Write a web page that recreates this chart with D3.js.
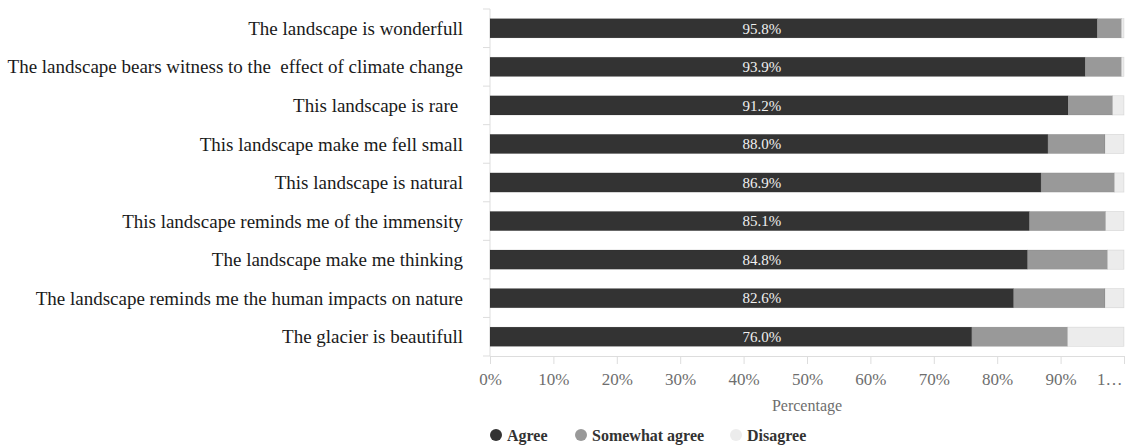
<!DOCTYPE html>
<html>
<head>
<meta charset="utf-8">
<script src="https://cdn.jsdelivr.net/npm/d3@7"></script>
<style>
  html, body { margin: 0; padding: 0; background: #fff; }
  svg { display: block; font-family: "Liberation Serif", "Times New Roman", serif; }
</style>
</head>
<body>
<svg id="chart" width="1128" height="448"></svg>
<script>
// ---- data ----
const categories = [
  "The landscape is wonderfull",
  "The landscape bears witness to the  effect of climate change",
  "This landscape is rare ",
  "This landscape make me fell small",
  "This landscape is natural",
  "This landscape reminds me of the immensity",
  "The landscape make me thinking",
  "The landscape reminds me the human impacts on nature",
  "The glacier is beautifull"
];
const agree          = [95.8, 93.9, 91.2, 88.0, 86.9, 85.1, 84.8, 82.6, 76.0];
const somewhatAgree  = [3.8, 5.7, 7.0, 9.0, 11.6, 12.0, 12.6, 14.4, 15.1];
const disagree       = [0.4, 0.4, 1.8, 3.0, 1.5, 2.9, 2.6, 3.0, 8.9];
const seriesNames    = ["Agree", "Somewhat agree", "Disagree"];
const tickValues     = [0, 10, 20, 30, 40, 50, 60, 70, 80, 90, 100];
const tickLabels     = ["0%", "10%", "20%", "30%", "40%", "50%", "60%", "70%", "80%", "90%", "1…"];
const axisTitle      = "Percentage";

// ---- layout / style ----
const colors = ["#333333", "#999999", "#ececec"];
const plot = { left: 490, right: 1124, top: 9, bottom: 356 };
const labelAnchor = 42.9; // value position where the bar labels sit

const svg = d3.select("#chart");

const rows = categories.map((c, i) => ({
  cat: c, Agree: agree[i], "Somewhat agree": somewhatAgree[i], Disagree: disagree[i]
}));
const stacked = d3.stack().keys(seriesNames)(rows);

const x = d3.scaleLinear().domain([0, 100]).range([plot.left, plot.right]);
const y = d3.scaleBand().domain(categories).range([plot.top, plot.bottom]).paddingInner(0.5).paddingOuter(0.25);
const color = d3.scaleOrdinal().domain(seriesNames).range(colors);

// y axis line and ticks between categories
const gridColor = "#dddddd";
svg.append("line")
  .attr("x1", x(0)).attr("x2", x(0))
  .attr("y1", plot.top).attr("y2", plot.bottom)
  .attr("stroke", gridColor).attr("stroke-width", 1);
const step = y.step();
const boundaries = d3.range(categories.length + 1).map(i => plot.top + i * step);
svg.append("g").selectAll("line").data(boundaries).join("line")
  .attr("x1", x(0) - 7).attr("x2", x(0))
  .attr("y1", d => d).attr("y2", d => d)
  .attr("stroke", gridColor).attr("stroke-width", 1);

// x axis
const xAxis = d3.axisBottom(x)
  .tickValues(tickValues)
  .tickSize(8)
  .tickPadding(9)
  .tickFormat((d, i) => tickLabels[i]);
const gx = svg.append("g").attr("transform", `translate(0,${plot.bottom})`).call(xAxis);
gx.select(".domain").attr("stroke", gridColor);
gx.selectAll(".tick line").attr("stroke", gridColor);
gx.selectAll(".tick text")
  .attr("fill", "#6e6e6e")
  .attr("font-size", 17)
  .attr("font-family", "Liberation Serif");
gx.selectAll(".tick text").filter(d => d === 100)
  .attr("text-anchor", "end")
  .attr("x", -2);

// y labels
svg.append("g").selectAll("text").data(categories).join("text")
  .attr("x", x(0) - 27)
  .attr("y", d => y(d) + y.bandwidth() / 2)
  .attr("dy", "0.35em")
  .attr("text-anchor", "end")
  .attr("font-size", 19)
  .attr("fill", "#1a1a1a")
  .style("white-space", "pre")
  .text(d => d.replace(/\s+$/, "\u00a0"));

// bars
svg.append("g").selectAll("g").data(stacked).join("g")
  .attr("fill", d => color(d.key))
  .selectAll("rect").data(d => d).join("rect")
  .attr("x", d => x(d[0]))
  .attr("width", d => Math.max(0, x(d[1]) - x(d[0])))
  .attr("y", d => y(d.data.cat))
  .attr("height", y.bandwidth())
  .attr("stroke", "rgba(0,0,0,0.12)")
  .attr("stroke-width", 0.6);

// bar labels (Agree)
svg.append("g").selectAll("text").data(rows).join("text")
  .attr("x", x(labelAnchor))
  .attr("y", d => y(d.cat) + y.bandwidth() / 2)
  .attr("dy", "0.35em")
  .attr("text-anchor", "middle")
  .attr("font-size", 15)
  .attr("fill", "#f0f0f0")
  .text(d => d.Agree.toFixed(1) + "%");

// axis title
svg.append("text")
  .attr("x", (plot.left + plot.right) / 2)
  .attr("y", 405)
  .attr("dy", "0.35em")
  .attr("text-anchor", "middle")
  .attr("font-size", 16)
  .attr("fill", "#6e6e6e")
  .text(axisTitle);

// legend
const legendX = [496, 581, 736];
const lg = svg.append("g").selectAll("g").data(seriesNames).join("g")
  .attr("transform", (d, i) => `translate(${legendX[i]},435)`);
lg.append("circle").attr("r", 6).attr("fill", d => color(d));
lg.append("text")
  .attr("x", 11)
  .attr("dy", "0.35em")
  .attr("font-size", 16)
  .attr("font-weight", "bold")
  .attr("fill", "#333")
  .text(d => d);
</script>
</body>
</html>
